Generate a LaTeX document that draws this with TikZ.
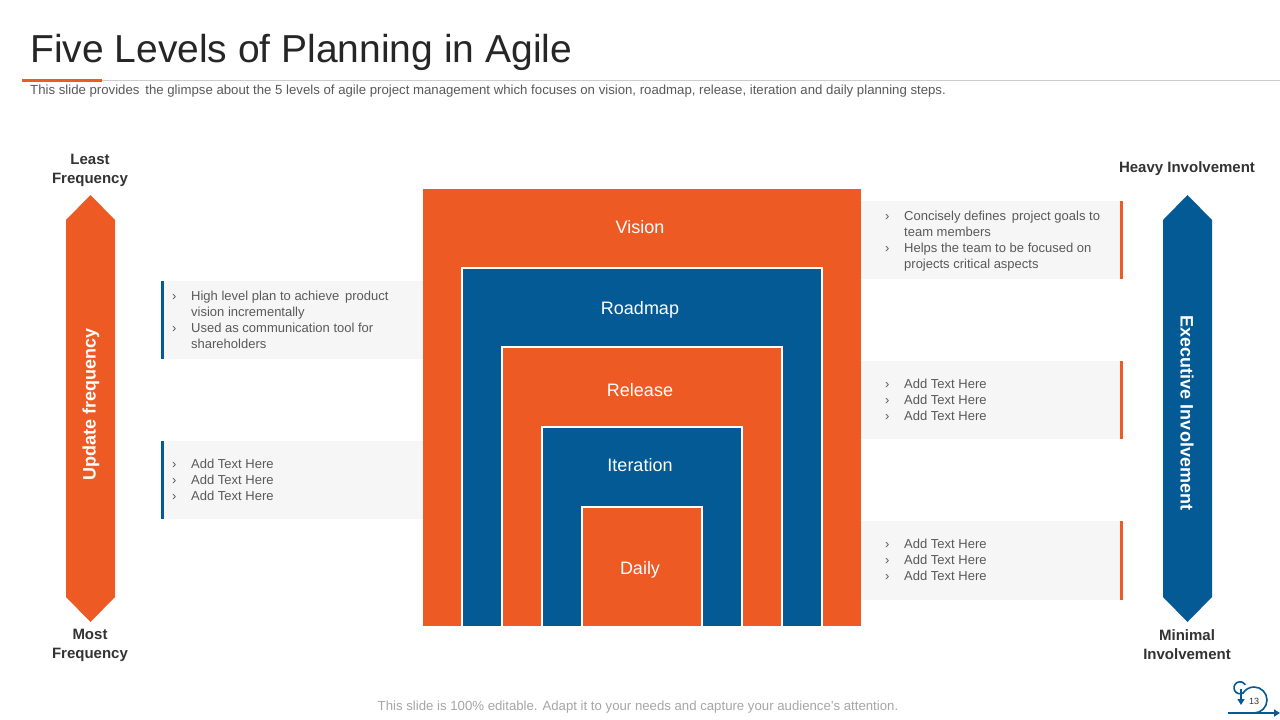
\documentclass[tikz,border=0pt]{standalone}
\usepackage{fontspec}
\setmainfont{Liberation Sans}
\usetikzlibrary{arrows.meta}
\definecolor{org}{HTML}{EE5A24}
\definecolor{blu}{HTML}{035A95}
\definecolor{txt}{HTML}{595959}
\definecolor{boxg}{HTML}{F6F6F6}
\newcommand{\bl}{\makebox[19pt][l]{›}}
\newcommand{\ind}{\hspace*{19pt}}
\tikzset{
 lbl/.style={text=white,font=\fontsize{18}{20}\selectfont},
 bt/.style={anchor=north west,text=txt,font=\fontsize{13}{16}\selectfont,align=left,inner sep=0pt},
 hd/.style={text=black!80,font=\bfseries\fontsize{15}{19}\selectfont,align=center},
}
\begin{document}
\begin{tikzpicture}[x=1pt,y=-1pt]
\useasboundingbox (0,0) rectangle (1280,720);
\fill[white] (0,0) rectangle (1280,720);
\node[anchor=west,inner sep=0pt,text=black!85,font=\fontsize{39}{42}\selectfont] (title) at (30,52) {Five Levels of Planning in Agile};
\draw[black!20,line width=0.7pt] (22,80) -- (1280,80);
\draw[org,line width=3pt] (22,80) -- (102,80);
\node[anchor=west,inner sep=0pt,text=txt,font=\fontsize{13.2}{15}\selectfont] (sub) at (30,91) {This slide provides\, the glimpse about the 5 levels of agile project management which focuses on vision, roadmap, release, iteration and daily planning steps.};
% nested squares
\fill[org] (423,189) rectangle (861,626);
\fill[blu] (462,268) rectangle (822,626);
\draw[white,line width=2pt] (462,626) -- (462,268) -- (822,268) -- (822,626);
\fill[org] (502,347) rectangle (782,626);
\draw[white,line width=2pt] (502,626) -- (502,347) -- (782,347) -- (782,626);
\fill[blu] (542,427) rectangle (742,626);
\draw[white,line width=2pt] (542,626) -- (542,427) -- (742,427) -- (742,626);
\fill[org] (582,507) rectangle (702,626);
\draw[white,line width=2pt] (582,626) -- (582,507) -- (702,507) -- (702,626);
\node[lbl] (vis) at (640,227) {Vision};
\node[lbl] (road) at (640,310) {Roadmap};
\node[lbl] (rel) at (640,390) {Release};
\node[lbl] (it) at (640,465) {Iteration};
\node[lbl] (day) at (640,570) {Daily};
% left boxes
\fill[boxg] (161,281) rectangle (423,359);
\fill[blu] (161,281) rectangle (164,359);
\node[bt] (l1) at (172,291) {\bl High level plan to achieve\, product\\\ind vision incrementally\\\bl Used as communication tool for\\\ind shareholders};
\fill[boxg] (161,441) rectangle (423,519);
\fill[blu] (161,441) rectangle (164,519);
\node[bt] (l2) at (172,459) {\bl Add Text Here\\\bl Add Text Here\\\bl Add Text Here};
% right boxes
\fill[boxg] (861,201) rectangle (1123,279);
\fill[org] (1120,201) rectangle (1123,279);
\node[bt] (r1) at (885,211) {\bl Concisely defines\, project goals to\\\ind team members\\\bl Helps the team to be focused on\\\ind projects critical aspects};
\fill[boxg] (861,361) rectangle (1123,439);
\fill[org] (1120,361) rectangle (1123,439);
\node[bt] (r2) at (885,379) {\bl Add Text Here\\\bl Add Text Here\\\bl Add Text Here};
\fill[boxg] (861,521) rectangle (1123,600);
\fill[org] (1120,521) rectangle (1123,600);
\node[bt] (r3) at (885,539) {\bl Add Text Here\\\bl Add Text Here\\\bl Add Text Here};
% side arrows
\fill[org] (90.5,195) -- (115,220) -- (115,597) -- (90.5,622) -- (66,597) -- (66,220) -- cycle;
\node[rotate=90,text=white,font=\bfseries\fontsize{18}{20}\selectfont] (uf) at (91,404) {Update frequency};
\fill[blu] (1187.5,195) -- (1212,220) -- (1212,597) -- (1187.5,622) -- (1163,597) -- (1163,220) -- cycle;
\node[rotate=-90,text=white,font=\bfseries\fontsize{18}{20}\selectfont] (ei) at (1187,413) {Executive Involvement};
\node[hd] (lf) at (90,170) {Least\\Frequency};
\node[hd] (mf) at (90,645) {Most\\Frequency};
\node[hd] (hi) at (1187,169) {Heavy Involvement};
\node[hd] (mi) at (1187,645) {Minimal\\Involvement};
% footer
\node[text=black!35,font=\fontsize{13.2}{15}\selectfont] (foot) at (638,707) {This slide is 100\% editable. Adapt it to your needs and capture your audience’s attention.};
\begin{scope}[shift={(1254,700)},y=1pt]
\draw[blu,line width=1.6pt,-{Triangle[length=6pt,width=7pt]}] (-26,-13) -- (26,-13);
\draw[blu,line width=1.6pt] (0,-13) arc[start angle=-90,end angle=150,radius=13];
\draw[blu,line width=1.6pt] (-11,7) arc[start angle=-60,end angle=-330,radius=6];
\draw[blu,line width=1.6pt,-{Triangle[length=6pt,width=7pt]}] (-13,11) -- (-13,-5);
\end{scope}
\node[text=black!80,font=\fontsize{9}{10}\selectfont] (pg) at (1254,701) {13};
\end{tikzpicture}
\end{document}
